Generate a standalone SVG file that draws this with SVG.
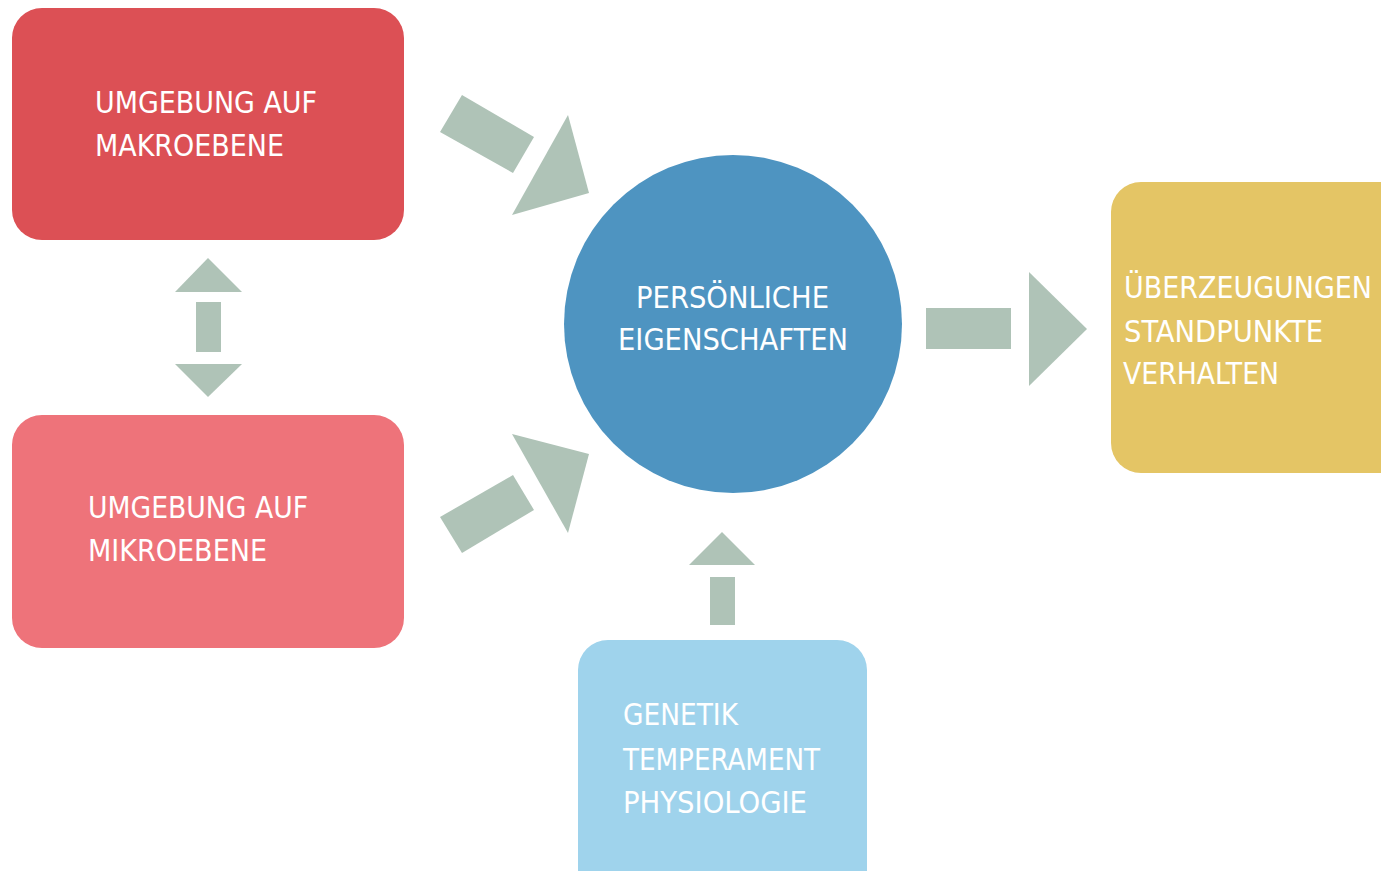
<svg xmlns="http://www.w3.org/2000/svg" width="1381" height="871" viewBox="0 0 1381 871">
<style>
.lbl{font-family:"DejaVu Sans Condensed","DejaVu Sans","Liberation Sans",sans-serif;font-size:31px;fill:#ffffff;}
.arr{fill:#AFC3B7;}
</style>
<rect width="1381" height="871" fill="#ffffff"/>
<g id="connectors">
  <polygon class="arr" points="440,132 462,95 534,137 513,173"/>
  <polygon class="arr" points="568,115 589,193 512,215"/>
  <polygon class="arr" points="440,517 513,475 534,510 462,553"/>
  <polygon class="arr" points="512,434 589,454 568,533"/>
  <polygon class="arr" points="208,258 242,292 175,292"/>
  <rect class="arr" x="196" y="302" width="25" height="50"/>
  <polygon class="arr" points="175,364 242,364 208,397"/>
  <rect class="arr" x="926" y="308" width="85" height="41"/>
  <polygon class="arr" points="1029,272 1087,329 1029,386"/>
  <polygon class="arr" points="722,532 755,565 689,565"/>
  <rect class="arr" x="710" y="577" width="25" height="48"/>
</g>
<g id="makro">
  <rect x="12" y="8" width="392" height="232" rx="30" fill="#DC5055"/>
  <text class="lbl" x="95" y="113" textLength="222" lengthAdjust="spacingAndGlyphs">UMGEBUNG AUF</text>
  <text class="lbl" x="95" y="156" textLength="189" lengthAdjust="spacingAndGlyphs">MAKROEBENE</text>
</g>
<g id="mikro">
  <rect x="12" y="415" width="392" height="233" rx="30" fill="#EE737A"/>
  <text class="lbl" x="88" y="518" textLength="220" lengthAdjust="spacingAndGlyphs">UMGEBUNG AUF</text>
  <text class="lbl" x="88" y="561" textLength="179" lengthAdjust="spacingAndGlyphs">MIKROEBENE</text>
</g>
<g id="eigenschaften">
  <circle cx="733" cy="324" r="169" fill="#4E94C1"/>
  <text class="lbl" x="636" y="308" textLength="193" lengthAdjust="spacingAndGlyphs">PERSÖNLICHE</text>
  <text class="lbl" x="618" y="350" textLength="230" lengthAdjust="spacingAndGlyphs">EIGENSCHAFTEN</text>
</g>
<g id="ueberzeugungen">
  <rect x="1111" y="182" width="300" height="291" rx="30" fill="#E4C565"/>
  <text class="lbl" x="1124" y="298" textLength="248" lengthAdjust="spacingAndGlyphs">ÜBERZEUGUNGEN</text>
  <text class="lbl" x="1124" y="342" textLength="199" lengthAdjust="spacingAndGlyphs">STANDPUNKTE</text>
  <text class="lbl" x="1123" y="384" textLength="156" lengthAdjust="spacingAndGlyphs">VERHALTEN</text>
</g>
<g id="genetik">
  <rect x="578" y="640" width="289" height="260" rx="30" fill="#9FD3EC"/>
  <text class="lbl" x="623" y="725" textLength="115" lengthAdjust="spacingAndGlyphs">GENETIK</text>
  <text class="lbl" x="623" y="770" textLength="197" lengthAdjust="spacingAndGlyphs">TEMPERAMENT</text>
  <text class="lbl" x="623" y="813" textLength="184" lengthAdjust="spacingAndGlyphs">PHYSIOLOGIE</text>
</g>
</svg>
